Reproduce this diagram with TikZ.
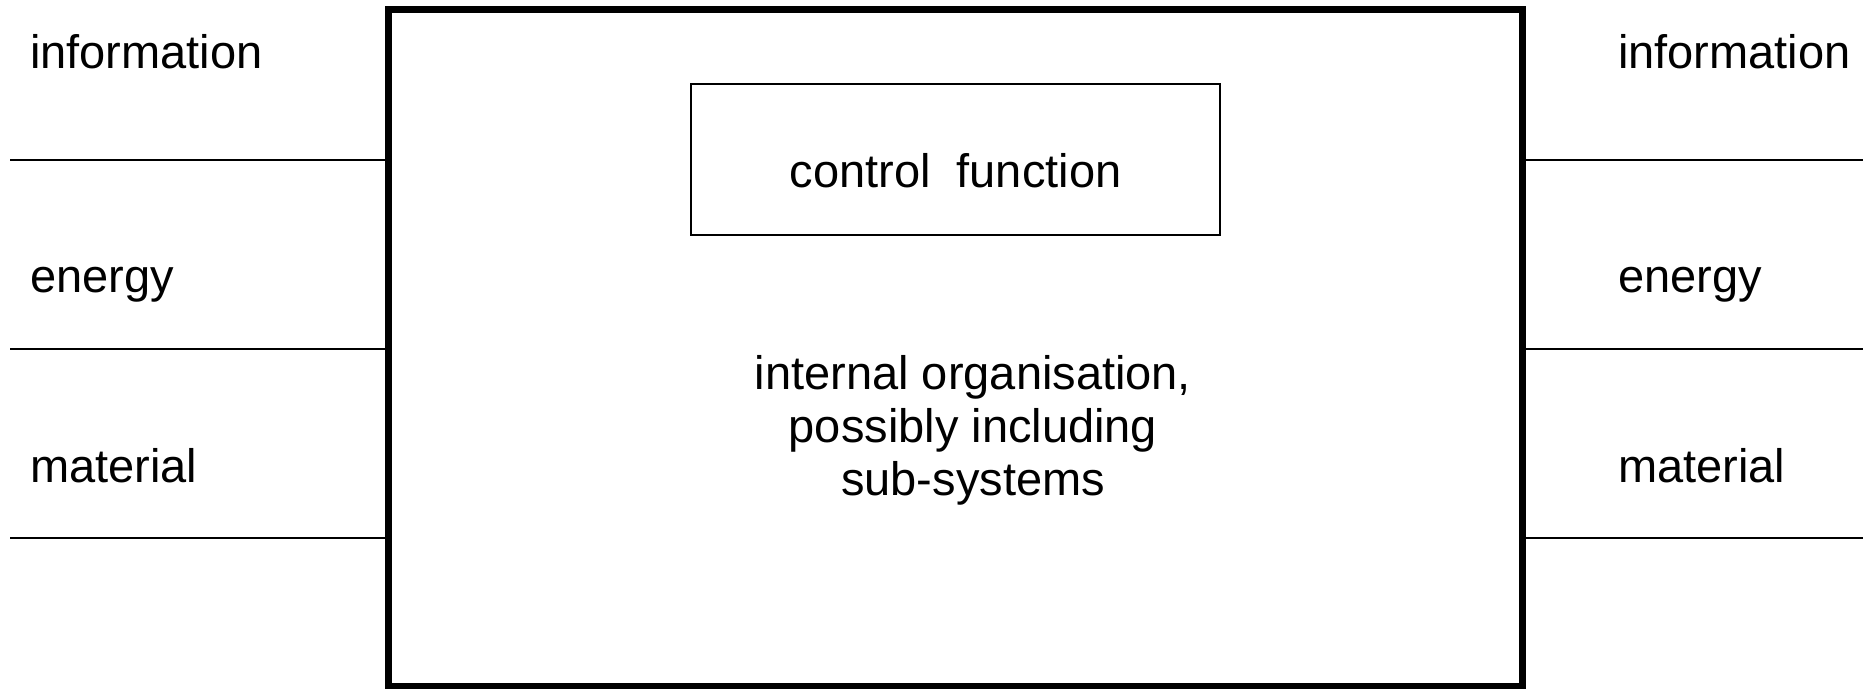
\documentclass[tikz,border=0pt]{standalone}
\usepackage{fontspec}
\setmainfont{Liberation Sans}
\usetikzlibrary{positioning}
\begin{document}
\begin{tikzpicture}[x=1pt, y=-1pt, font=\fontsize{47}{53}\selectfont,
  flow/.style={line width=1.5pt}]
  \useasboundingbox (0,0) rectangle (1871,688);
  \node[draw, line width=7pt, minimum width=1134pt, minimum height=677pt] (sys) at (955,347.5) {};
  \node[draw, line width=1.5pt, minimum width=529pt, minimum height=151pt,
    text height=55pt, text depth=0pt] (ctrl) at (955.5,159.5) {control\ \ function};
  \node[align=center] (org) at (973,430) {internal organisation,\\possibly including\hspace*{13pt}\\sub-systems};
  \foreach \lbl/\base/\y [count=\i] in {information/68/160, energy/292/349, material/482/538} {
    \node[anchor=base west, inner sep=0pt] (inlbl\i) at (30,\base) {\lbl};
    \node[anchor=base west, inner sep=0pt] (outlbl\i) at (1618,\base) {\lbl};
    \coordinate (in\i) at (10,\y);
    \coordinate (out\i) at (1863,\y);
    \draw[flow] (in\i) -- (in\i -| sys.west);
    \draw[flow] (sys.east |- out\i) -- (out\i);
  }
\end{tikzpicture}
\end{document}
